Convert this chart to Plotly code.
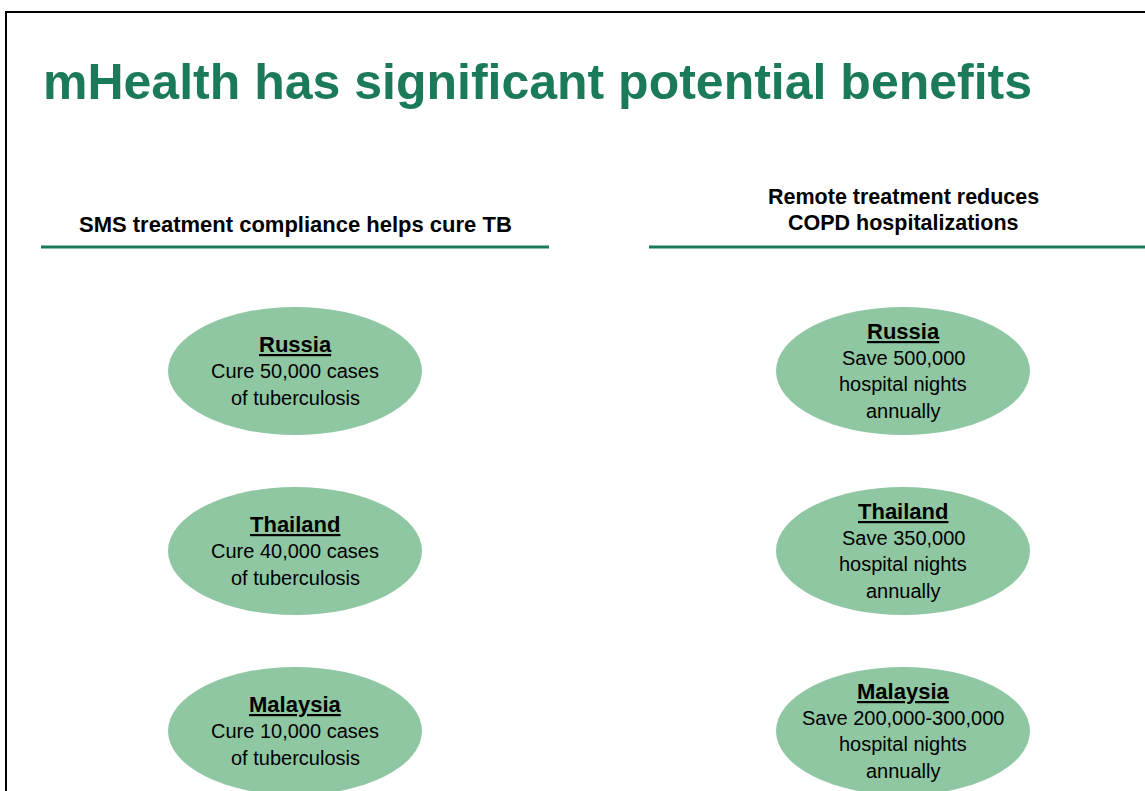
import plotly.graph_objects as go

# ---- data ----
title = "mHealth has significant potential benefits"
left_header = "SMS treatment compliance helps cure TB"
right_header_lines = ["Remote treatment reduces", "COPD hospitalizations"]
countries = ["Russia", "Thailand", "Malaysia"]
tb_cases = ["50,000", "40,000", "10,000"]
copd_nights = ["500,000", "350,000", "200,000-300,000"]

# ---- layout constants ----
W, H = 1145, 791
col_x = [295, 903]
row_y = [371, 551, 731]
ell_w, ell_h = 254, 128
green = "#1b7a58"
fill = "#8fc7a2"
font = "Liberation Sans, Arial, sans-serif"

fig = go.Figure()
fig.add_trace(go.Scatter(x=[0, W], y=[0, H], mode="markers",
                         marker=dict(opacity=0), hoverinfo="skip", showlegend=False))

shapes = []
annotations = []

# frame
shapes.append(dict(type="rect", x0=6, y0=12, x1=W + 40, y1=H + 40,
                   line=dict(color="black", width=2), xref="x", yref="y"))

# title
annotations.append(dict(x=41, y=82, text="<b>" + title + "</b>", showarrow=False,
                        xanchor="left", yanchor="middle",
                        font=dict(family=font, size=50, color=green)))

# headers
annotations.append(dict(x=col_x[0], y=224, text="<b>" + left_header + "</b>", showarrow=False,
                        xanchor="center", yanchor="middle",
                        font=dict(family=font, size=22, color="black")))
for k, line in enumerate(right_header_lines):
    annotations.append(dict(x=col_x[1], y=197 + 26 * k, text="<b>" + line + "</b>", showarrow=False,
                            xanchor="center", yanchor="middle",
                            font=dict(family=font, size=21.5, color="black")))

# header rules
shapes.append(dict(type="line", x0=41, x1=549, y0=247, y1=247,
                   line=dict(color=green, width=3), xref="x", yref="y"))
shapes.append(dict(type="line", x0=649, x1=W + 40, y0=247, y1=247,
                   line=dict(color=green, width=3), xref="x", yref="y"))

# ellipses + text
for i, c in enumerate(countries):
    for j, cx in enumerate(col_x):
        cy = row_y[i]
        shapes.append(dict(type="circle", x0=cx - ell_w / 2, x1=cx + ell_w / 2,
                           y0=cy - ell_h / 2, y1=cy + ell_h / 2,
                           fillcolor=fill, line=dict(width=0), xref="x", yref="y", layer="below"))
        if j == 0:
            body = ["Cure %s cases" % tb_cases[i], "of tuberculosis"]
        else:
            body = ["Save %s" % copd_nights[i], "hospital nights", "annually"]
        lines = [c] + body
        n = len(lines)
        for k, ln in enumerate(lines):
            ly = cy + (k - (n - 1) / 2) * 26.5
            if k == 0:
                txt = "<b><u>%s</u></b>" % ln
                sz = 22
            else:
                txt = ln
                sz = 20
            annotations.append(dict(x=cx, y=ly, text=txt, showarrow=False,
                                    xanchor="center", yanchor="middle", align="center",
                                    font=dict(family=font, size=sz, color="black")))

fig.update_layout(
    width=W, height=H,
    margin=dict(l=0, r=0, t=0, b=0),
    paper_bgcolor="white", plot_bgcolor="white",
    xaxis=dict(range=[0, W], visible=False, fixedrange=True),
    yaxis=dict(range=[H, 0], visible=False, fixedrange=True),
    shapes=shapes, annotations=annotations, showlegend=False,
)
fig.write_html("out.html", config={"displayModeBar": False},
               post_script="document.body.style.margin='0';document.body.style.overflow='hidden';")
